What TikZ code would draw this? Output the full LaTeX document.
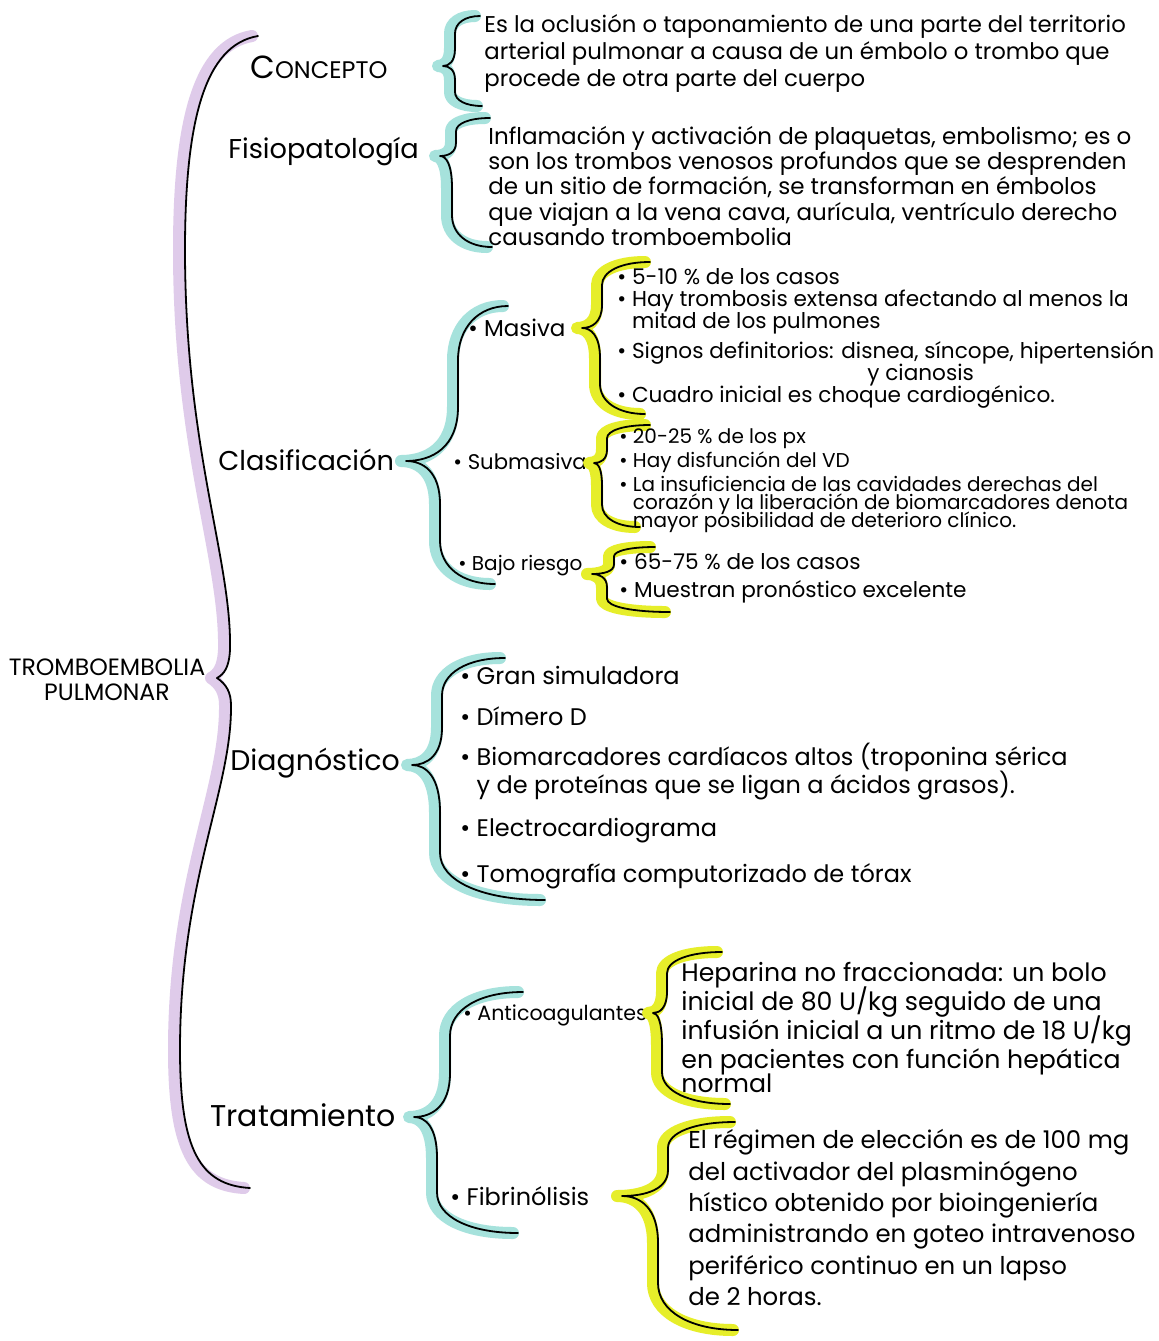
\documentclass[tikz,border=0pt]{standalone}
\usepackage{fontspec}
\setmainfont{Poppins}
\usetikzlibrary{positioning}
\definecolor{lila}{HTML}{DFCBEA}
\definecolor{agua}{HTML}{A6E2DC}
\definecolor{limon}{HTML}{E6EE2A}
\tikzset{
  ink/.style ={draw=black, line width=0.9pt, line cap=round, line join=round},
  hl/.style  ={draw=#1, line width=6pt, line cap=round, line join=round},
  raiz/.style={align=center, inner sep=0pt, font=\fontsize{11.8}{12.5}\selectfont},
  tema/.style={anchor=west, inner sep=0pt, font=\fontsize{13.6}{16}\selectfont},
  sub/.style ={anchor=west, inner sep=0pt, font=\fontsize{11}{13}\selectfont},
  txt/.style ={anchor=north west, align=left, inner sep=0pt,
               execute at begin node={\setlength{\lineskiplimit}{-10pt}}}
}
\newcommand{\pto}{\textbullet\ }
\newcommand{\brc}[9]{%
  \pgfmathsetmacro{\brA}{0.35*(#6-#3)}%
  \pgfmathsetmacro{\brB}{0.35*(#9-#6)}%
  \draw[ink, preaction={hl=#1, transform canvas={xshift=-2.5pt}}]
    (#2,#3) .. controls ({#4+0.4*(#2-#4)},#3) and (#4,{#3+0.4*\brA}) .. (#4,{#3+\brA})
    -- (#4,{#6-\brA}) .. controls (#4,{#6-0.25*\brA}) and ({#5+0.5*(#4-#5)},#6) .. (#5,#6)
    .. controls ({#5+0.5*(#7-#5)},#6) and (#7,{#6+0.25*\brB}) .. (#7,{#6+\brB})
    -- (#7,{#9-\brB}) .. controls (#7,{#9-0.4*\brB}) and ({#7+0.4*(#8-#7)},#9) .. (#8,#9);
}

\begin{document}
\begin{tikzpicture}[x=0.5pt, y=-0.5pt]
  \fill[white] (0,0) rectangle (1159,1341);
  \useasboundingbox (0,0) rectangle (1159,1341);

  \node[raiz] (tep) at (107,680) {TROMBOEMBOLIA\\PULMONAR};

  \draw[ink, preaction={hl=lila, transform canvas={xshift=-3pt}}]
    (258,36) .. controls (205,45) and (185,120) .. (185,250)
    .. controls (185,450) and (232,560) .. (230,650)
    .. controls (229,668) and (224,674) .. (217,678)
    .. controls (226,684) and (231,692) .. (231,705)
    .. controls (232,790) and (180,880) .. (180,1050)
    .. controls (180,1150) and (200,1185) .. (250,1188);

  \node[tema] (conc) at (250,67) {{\fontsize{16}{16}\selectfont C}{\fontsize{12}{14}\selectfont ONCEPTO}};
  \node[tema] (fisio) at (228,152) {Fisiopatología};
  \node[tema] (clas) at (218,460) {Clasificación};
  \node[tema, font=\fontsize{14.2}{16}\selectfont] (diag) at (230,763) {Diagnóstico};
  \node[tema, font=\fontsize{15}{17}\selectfont] (trat) at (210,1115) {Tratamiento};

  \brc{agua}{480}{16}{455}{443}{66}{455}{482}{106}
  \brc{agua}{490}{118}{456}{440}{156}{452}{492}{247}
  \brc{agua}{508}{306}{458}{406}{461}{440}{495}{584}
  \brc{agua}{505}{658}{442}{412}{765}{440}{545}{900}
  \brc{agua}{523}{992}{450}{414}{1117}{437}{518}{1233}

  \node[txt, font=\fontsize{11.4}{13.5}\selectfont] (conctx) at (484,14)
    {Es la oclusión o taponamiento de una parte del territorio\\
     arterial pulmonar a causa de un émbolo o trombo que\\
     procede de otra parte del cuerpo};
  \node[txt, font=\fontsize{11.5}{12.6}\selectfont] (fisiotx) at (488,126)
    {Inflamación y activación de plaquetas, embolismo; es o\\
     son los trombos venosos profundos que se desprenden\\
     de un sitio de formación, se transforman en émbolos\\
     que viajan a la vena cava, aurícula, ventrículo derecho\\
     causando tromboembolia};

  \node[sub, font=\fontsize{11.5}{14}\selectfont] (mas) at (468,328) {\pto Masiva};
  \node[sub, font=\fontsize{10.6}{13}\selectfont] (submas) at (453,462) {\pto Submasiva};
  \node[sub, font=\fontsize{10}{13}\selectfont] (bajo) at (458,566) {\pto Bajo riesgo};

  \brc{limon}{650}{262}{602}{582}{328}{600}{645}{414}
  \brc{limon}{650}{425}{607}{594}{463}{602}{640}{527}
  \brc{limon}{655}{547}{614}{592}{574}{607}{670}{612}

  \node[txt, font=\fontsize{10.8}{11}\selectfont] (mastx) at (617,268)
    {\pto 5-10 \% de los casos\\
     \pto Hay trombosis extensa afectando al menos la\\
     \phantom{\pto}mitad de los pulmones\\[4pt]
     \pto Signos definitorios: disnea, síncope, hipertensión\\
     \hspace*{125pt}y cianosis\\[0pt]
     \pto Cuadro inicial es choque cardiogénico.};
  \node[txt, font=\fontsize{10}{9}\selectfont] (submastx) at (619,428)
    {\pto 20-25 \% de los px\\[3pt]
     \pto Hay disfunción del VD\\[3pt]
     \pto La insuficiencia de las cavidades derechas del\\
     \phantom{\pto}corazón y la liberación de biomarcadores denota\\
     \phantom{\pto}mayor posibilidad de deterioro clínico.};
  \node[txt, font=\fontsize{10.8}{14}\selectfont] (bajotx) at (619,553)
    {\pto 65-75 \% de los casos\\
     \pto Muestran pronóstico excelente};

  \node[txt, font=\fontsize{12}{14}\selectfont] (diagtx) at (460,666)
    {\pto Gran simuladora\\[6.5pt]
     \pto Dímero D\\[6pt]
     \pto Biomarcadores cardíacos altos (troponina sérica\\
     \phantom{\pto}y de proteínas que se ligan a ácidos grasos).\\[7.5pt]
     \pto Electrocardiograma\\[9pt]
     \pto Tomografía computorizado de tórax};

  \node[sub, font=\fontsize{10.3}{13}\selectfont] (anti) at (463,1015) {\pto Anticoagulantes};
  \node[sub, font=\fontsize{12}{14}\selectfont] (fibri) at (450,1196) {\pto Fibrinólisis};

  \brc{limon}{722}{952}{667}{653}{1013}{662}{730}{1104}
  \brc{limon}{735}{1122}{668}{622}{1196}{658}{738}{1330}

  \node[txt, font=\fontsize{12.6}{14.4}\selectfont] (antitx) at (681,962)
    {Heparina no fraccionada: un bolo\\
     inicial de 80 U/kg seguido de una\\
     infusión inicial a un ritmo de 18 U/kg\\
     en pacientes con función hepática\\[-2pt]
     normal};
  \node[txt, font=\fontsize{12.2}{15.7}\selectfont] (fibritx) at (688,1129)
    {El régimen de elección es de 100 mg\\
     del activador del plasminógeno\\
     hístico obtenido por bioingeniería\\
     administrando en goteo intravenoso\\
     periférico continuo en un lapso\\
     de 2 horas.};
\end{tikzpicture}
\end{document}
